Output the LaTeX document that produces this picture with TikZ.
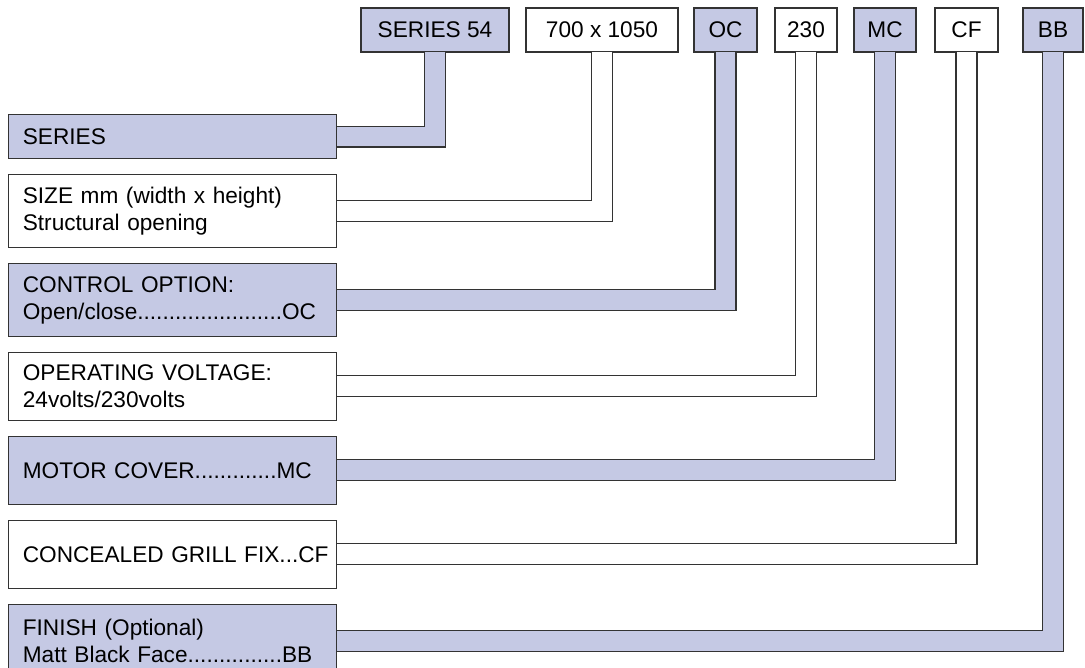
\documentclass[tikz,border=0pt]{standalone}
\usepackage{fontspec}
\setmainfont{Liberation Sans}
\usetikzlibrary{positioning}
\definecolor{bandblue}{HTML}{C5C9E4}
\definecolor{edgegrey}{HTML}{333333}

\begin{document}
\begin{tikzpicture}[x=0.025cm, y=-0.025cm,
        font=\fontsize{16.1}{19.2}\selectfont,
        codebox/.style={draw=edgegrey, line width=0.8pt, minimum height=1.1cm, inner sep=0pt},
        labelbox/.style={draw=edgegrey, line width=0.8pt, minimum width=8.2cm, text width=213pt, inner xsep=9.7pt, align=left},
        filled/.style={fill=bandblue},
        band/.style={draw=edgegrey, line width=0.8pt, double=#1, double distance=14.1pt, shorten <=-0.45pt, shorten >=-0.45pt},
        node distance=0.37cm]
        \useasboundingbox (0,0) rectangle (1085,668);
        %
        \node[codebox, filled, minimum width=3.7cm] (s54) at (435,30) {SERIES 54};
        \node[codebox, minimum width=3.8cm] (dims) at (602,30) {700 x 1050};
        \node[codebox, filled, minimum width=1.575cm] (oc) at (725.5,30) {OC};
        \node[codebox, minimum width=1.55cm] (volts) at (806,30) {230};
        \node[codebox, filled, minimum width=1.55cm] (mc) at (885,30) {MC};
        \node[codebox, minimum width=1.575cm] (cf) at (966.5,30) {CF};
        \node[codebox, filled, minimum width=1.5cm] (bb) at (1053,30) {BB};
        %
        \node[labelbox, filled, minimum height=1.1cm, anchor=north west] (series) at (8,114) {SERIES};
        \node[labelbox, minimum height=1.825cm, below=of series] (size) {SIZE mm (width x height)\\Structural opening};
        \node[labelbox, filled, minimum height=1.825cm, below=of size] (control) {CONTROL OPTION:\\Open/close.......................OC};
        \node[labelbox, minimum height=1.7cm, below=of control] (voltage) {OPERATING VOLTAGE:\\24volts/230volts};
        \node[labelbox, filled, minimum height=1.7cm, below=of voltage] (motor) {MOTOR COVER.............MC};
        \node[labelbox, minimum height=1.7cm, below=of motor] (grill) {\mbox{CONCEALED GRILL FIX...CF}};
        \node[labelbox, filled, minimum height=1.85cm, below=of grill] (finish) {FINISH (Optional)\\Matt Black Face...............BB};
        %
        \draw[band=bandblue] (s54.south) |- (series.east);
        \draw[band=white] (dims.south) |- (size.east);
        \draw[band=bandblue] (oc.south) |- (control.east);
        \draw[band=white] (volts.south) |- (voltage.east);
        \draw[band=bandblue] (mc.south) |- (motor.east);
        \draw[band=white] (cf.south) |- (grill.east);
        \draw[band=bandblue] (bb.south) |- (finish.east);
    \end{tikzpicture}
\end{document}
